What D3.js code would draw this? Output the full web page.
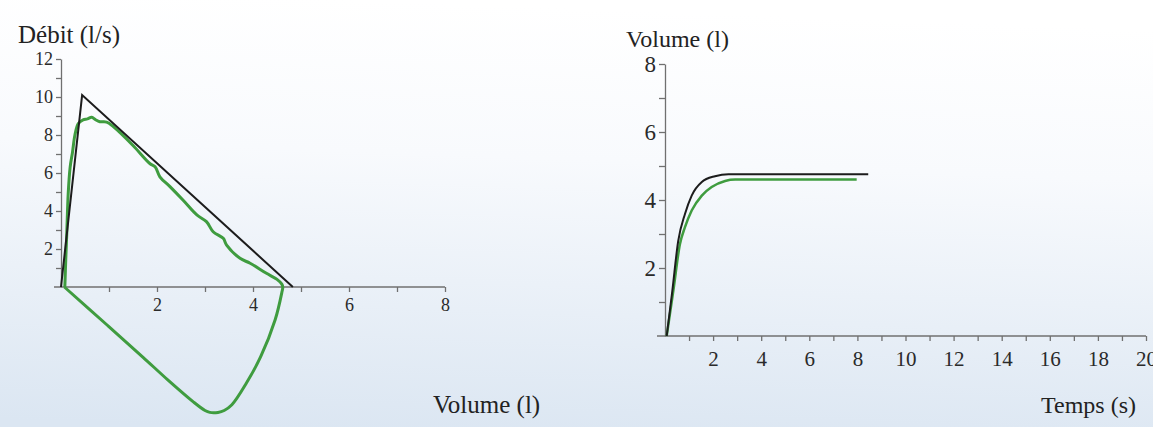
<!DOCTYPE html>
<html>
<head>
<meta charset="utf-8">
<script src="https://d3js.org/d3.v7.min.js"></script>
<style>
body{ margin:0; overflow:hidden; }
text{ font-family:"Liberation Serif", "Times New Roman", serif; }
.axis path, .axis line{ stroke:#707070; stroke-width:1.3; }
.axis text{ fill:#2a2a2a; font-family:"Liberation Serif", serif; }
</style>
</head>
<body>
<script>
// flow-volume loop (left)
var refVol = [0, 0.44, 4.83]
var refFlow = [0, 10.1, 0]

var measVol = [0.08, 0.1, 0.12, 0.15, 0.19, 0.24, 0.29, 0.36, 0.46, 0.55, 0.64, 0.72, 0.81, 0.95, 1.09,
               1.5, 1.85, 1.96, 2.06, 2.27, 2.55, 2.83, 3.03, 3.17, 3.38, 3.45, 3.73, 3.94, 4.28, 4.5, 4.6, 4.62,
               4.6, 4.46, 4.16, 3.86, 3.56, 3.4, 3.27, 3.1, 3.0, 2.75, 2.23, 1.71, 0.96, 0.07]
var measFlow = [0, 1.5, 2.8, 4.9, 6.3, 7.1, 8.0, 8.6, 8.8, 8.85, 8.93, 8.8, 8.7, 8.68, 8.44,
                7.45, 6.5, 6.33, 5.8, 5.28, 4.55, 3.79, 3.44, 2.91, 2.56, 2.21, 1.51, 1.25, 0.72, 0.4, 0.15, 0,
                -0.3, -1.74, -3.67, -5.07, -6.2, -6.5, -6.6, -6.6, -6.5, -6.03, -4.9, -3.7, -2.0, 0]

var volTicks = [1, 2, 3, 4, 5, 6, 7, 8]
var flowTicks = [1, 2, 3, 4, 5, 6, 7, 8, 9, 10, 11, 12]

// volume-time (right)
var refTime = [0.07, 0.3, 0.55, 0.83, 1.11, 1.53, 2.08, 2.64, 3.0, 8.45]
var refVolT = [0, 1.3, 2.8, 3.59, 4.13, 4.53, 4.7, 4.76, 4.76, 4.76]
var measTime = [0.07, 0.35, 0.62, 0.83, 1.11, 1.53, 1.94, 2.5, 2.92, 7.97]
var measVolT = [0, 1.35, 2.7, 3.2, 3.69, 4.13, 4.38, 4.56, 4.6, 4.6]

var timeTicks = [1, 2, 3, 4, 5, 6, 7, 8, 9, 10, 11, 12, 13, 14, 15, 16, 17, 18, 19, 20]
var volTTicks = [1, 2, 3, 4, 5, 6, 7, 8]

var w = 1153
var h = 427
var black = "#1c1c1c"
var green = "#3f9c3f"

var svg = d3.select("body")
            .append("svg")
            .attr("width", w)
            .attr("height", h)

var grad = svg.append("defs").append("linearGradient")
              .attr("id", "bg")
              .attr("x1", "0.3").attr("y1", "0")
              .attr("x2", "0.2").attr("y2", "1")
grad.append("stop").attr("offset", "0").attr("stop-color", "#ffffff")
grad.append("stop").attr("offset", "0.35").attr("stop-color", "#f8fafd")
grad.append("stop").attr("offset", "1").attr("stop-color", "#dbe6f2")

svg.append("rect")
   .attr("width", w)
   .attr("height", h)
   .attr("fill", "url(#bg)")

function evenOnly(d){
    return d % 2 == 0 ? d : ""
}

// ---------- left chart ----------
var x1 = d3.scaleLinear().domain([0, 8]).range([61, 445])
var y1 = d3.scaleLinear().domain([0, 12]).range([287, 59])

svg.append("g")
   .attr("class", "axis")
   .attr("transform", "translate(0," + y1(0) + ")")
   .call(d3.axisBottom(x1).tickValues(volTicks).tickFormat(evenOnly)
           .tickSize(5).tickSizeOuter(0).tickPadding(6))
   .call(function(g){ g.selectAll("text").attr("font-size", 18) })
   .call(function(g){ g.select(".domain").attr("d", "M" + (x1(0) - 7) + ",0H" + x1(8)) })

svg.append("g")
   .attr("class", "axis")
   .attr("transform", "translate(" + x1(0) + ",0)")
   .call(d3.axisLeft(y1).tickValues(flowTicks).tickFormat(evenOnly)
           .tickSize(5).tickSizeOuter(0).tickPadding(3))
   .call(function(g){ g.selectAll("text").attr("font-size", 18) })

var lineFV = d3.line()
               .x(function(d){ return x1(d[0]) })
               .y(function(d){ return y1(d[1]) })

svg.append("path")
   .datum(d3.zip(measVol, measFlow))
   .attr("d", lineFV.curve(d3.curveCatmullRom.alpha(0.5)))
   .attr("fill", "none")
   .attr("stroke", green)
   .attr("stroke-width", 3)
   .attr("stroke-linejoin", "round")

svg.append("path")
   .datum(d3.zip(refVol, refFlow))
   .attr("d", lineFV.curve(d3.curveLinear))
   .attr("fill", "none")
   .attr("stroke", black)
   .attr("stroke-width", 2)

svg.append("text")
   .attr("x", 18).attr("y", 43)
   .attr("font-size", 25)
   .attr("fill", "#222")
   .text("Débit (l/s)")

svg.append("text")
   .attr("x", 433).attr("y", 413)
   .attr("font-size", 25)
   .attr("fill", "#222")
   .text("Volume (l)")

// ---------- right chart ----------
var x2 = d3.scaleLinear().domain([0, 20]).range([665, 1146])
var y2 = d3.scaleLinear().domain([0, 8]).range([336, 64])

svg.append("g")
   .attr("class", "axis")
   .attr("transform", "translate(0," + y2(0) + ")")
   .call(d3.axisBottom(x2).tickValues(timeTicks).tickFormat(evenOnly)
           .tickSize(5).tickSizeOuter(0).tickPadding(10))
   .call(function(g){ g.selectAll("text").attr("font-size", 21) })
   .call(function(g){ g.select(".domain").attr("d", "M" + (x2(0) - 8) + ",0H" + x2(20)) })

svg.append("g")
   .attr("class", "axis")
   .attr("transform", "translate(" + x2(0) + ",0)")
   .call(d3.axisLeft(y2).tickValues(volTTicks).tickFormat(evenOnly)
           .tickSize(6).tickSizeOuter(0).tickPadding(3))
   .call(function(g){ g.selectAll("text").attr("font-size", 23) })

var lineVT = d3.line()
               .x(function(d){ return x2(d[0]) })
               .y(function(d){ return y2(d[1]) })
               .curve(d3.curveMonotoneX)

svg.append("path")
   .datum(d3.zip(measTime, measVolT))
   .attr("d", lineVT)
   .attr("fill", "none")
   .attr("stroke", green)
   .attr("stroke-width", 2.5)

svg.append("path")
   .datum(d3.zip(refTime, refVolT))
   .attr("d", lineVT)
   .attr("fill", "none")
   .attr("stroke", black)
   .attr("stroke-width", 2)

svg.append("text")
   .attr("x", 626).attr("y", 47)
   .attr("font-size", 24)
   .attr("fill", "#222")
   .text("Volume (l)")

svg.append("text")
   .attr("x", 1041).attr("y", 413)
   .attr("font-size", 24)
   .attr("fill", "#222")
   .text("Temps (s)")
</script>
</body>
</html>
